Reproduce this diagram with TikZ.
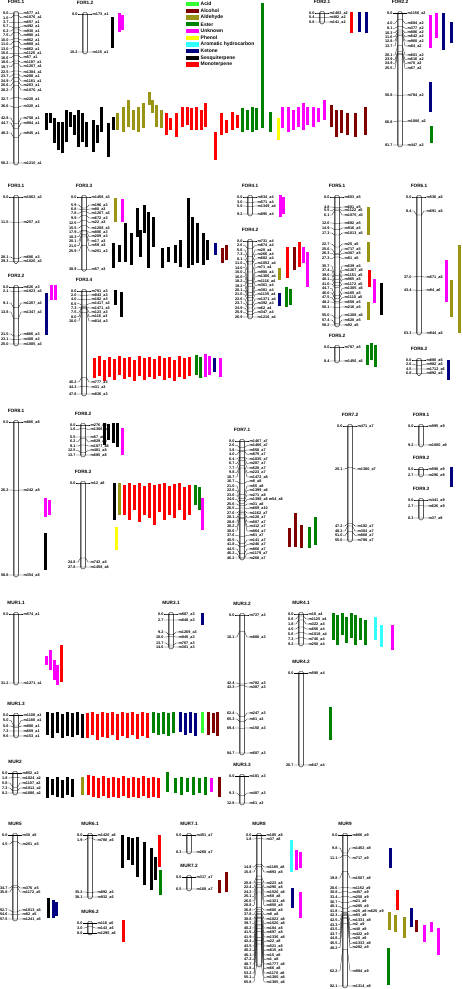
\documentclass[tikz,border=0pt]{standalone}
\usepackage{fontspec}
\setsansfont{Liberation Sans}
\renewcommand\familydefault{\sfdefault}
\newcounter{mk}
\definecolor{acid}{RGB}{51,255,51}
\definecolor{alc}{RGB}{128,0,0}
\definecolor{ald}{RGB}{153,148,20}
\definecolor{ester}{RGB}{0,128,0}
\definecolor{unk}{RGB}{255,0,255}
\definecolor{phenol}{RGB}{255,255,0}
\definecolor{arom}{RGB}{51,255,255}
\definecolor{ket}{RGB}{0,0,128}
\definecolor{mono}{RGB}{255,0,0}
\tikzset{
  chr/.style={draw=black,line width=0.4pt,fill=white,rounded corners=1.6pt},
  tck/.style={line width=0.25pt},
  cmlab/.style={anchor=east,inner sep=0.4pt,font=\fontsize{3.8}{4}\selectfont\bfseries},
  mklab/.style={anchor=west,inner sep=0.4pt,font=\fontsize{3.8}{4}\selectfont\bfseries},
  lgt/.style={inner sep=0.5pt,font=\fontsize{4.7}{5}\selectfont\bfseries},
  keytext/.style={anchor=west,inner sep=0.5pt,font=\fontsize{5}{6}\selectfont\bfseries}
}
\begin{document}
\catcode`\_=12
\begin{tikzpicture}[x=1pt,y=-1pt]

  \newcommand\LG[5]{%
    \node[lgt] (#5) at (#1,{#2-11}) {#4};
    \draw[chr] ({#1-2.4},{#2-1.8}) rectangle ({#1+2.4},{#3+1.8});
    \draw[gray!70,line width=1pt] ({#1-1.1},{#2-0.6}) -- ({#1-1.1},{#3+0.6});}
  \newcommand\MK[5]{%
    \stepcounter{mk}%
    \node[cmlab] (c\themk) at ({#1-7},{#3}) {#4};
    \node[mklab] (m\themk) at ({#1+7},{#3}) {#5};
    \draw[tck] (c\themk.east) -- ({#1-5},{#3}) -- ({#1-2.4},{#2})
      -- ({#1+2.4},{#2}) -- ({#1+5},{#3}) -- (m\themk.west);}

  \useasboundingbox (0,0) rectangle (463,989);

  % legend
  \foreach \c/\t [count=\i from 0] in {acid/Acid,alc/Alcohol,ald/Aldehyde,
    ester/Ester,unk/Unknown,phenol/Phenol,arom/Aromatic hydrocarbon,
    ket/Ketone,black/Sesquiterpene,mono/Monoterpene}{
    \fill[\c] (186,{2+\i*6.7}) rectangle (199,{6.3+\i*6.7});
    \node[keytext] (key\i) at (200,{4.2+\i*6.7}) {\t};
  }

  % QTL bars
  \foreach \x/\a/\b/\c in {
    46/113/130/black,50/113/123/black,54/118/143/black,58/122/150/black,
    62/122/153/black,66/110/142/black,70/112/127/black,74/115/135/black,
    78/110/147/black,82/113/142/black,86/122/147/black,93/120/152/black,
    97/125/143/black,101/107/132/black,108/123/157/black,113/117/130/black,
    117/113/130/ald,123/107/132/ald,128/100/127/ald,133/110/130/ald,
    138/107/132/ald,143/103/128/ald,149/92/105/ald,152/100/113/ald,
    156/105/127/ald,161/110/128/ald,
    166/113/135/mono,170/118/130/mono,176/113/137/mono,182/107/127/mono,
    187/107/125/mono,191/108/130/mono,196/107/130/mono,201/110/130/mono,
    205/103/127/mono,215/132/160/mono,221/113/135/mono,226/120/133/mono,
    232/112/130/mono,237/115/128/mono,
    242/108/132/ester,247/110/130/ester,252/107/132/ester,256/108/130/ester,
    262/3/128/ester,270/112/132/ester,278/118/140/phenol,
    282/107/128/unk,288/107/132/unk,293/110/130/unk,298/107/127/unk,
    303/103/130/unk,307/107/125/unk,313/107/127/unk,318/108/122/unk,
    324/100/120/unk,
    331/105/127/alc,336/110/137/alc,341/110/133/alc,347/113/135/alc,
    355/113/137/alc,365/107/135/alc,
    112/17/48/black,119/13/32/unk,122/15/30/unk,
    351/12/33/mono,359/12/32/ket,366/12/33/ket,
    430/15/48/unk,436/13/38/unk,443/13/50/ket,451/22/43/ket,
    430/82/112/ket,431/126/143/ester,
    51/285/300/unk,55/285/300/unk,46/293/335/ket,
    115/198/222/ald,122/199/222/unk,
    113/243/268/black,119/245/262/black,125/223/262/black,131/233/265/black,
    137/208/237/black,140/230/257/black,144/205/233/black,148/212/268/black,
    153/217/247/black,162/248/268/black,168/247/262/black,175/245/263/black,
    180/240/267/black,188/198/268/black,192/217/265/black,197/223/263/black,
    203/233/265/black,207/240/260/black,215/243/255/ket,222/248/263/alc,
    226/245/260/alc,
    115/290/305/black,121/292/317/black,
    94/358/378/mono,99/356/376/mono,104/360/381/mono,109/357/377/mono,
    114/359/380/mono,119/356/375/mono,124/358/379/mono,129/357/377/mono,
    134/360/381/mono,139/356/376/mono,144/358/380/mono,149/357/377/mono,
    154/359/379/mono,159/356/376/mono,164/358/380/mono,169/357/378/mono,
    174/360/381/mono,179/356/377/mono,184/358/379/mono,189/357/376/mono,
    196/355/375/ester,200/357/378/ester,205/354/377/unk,209/356/375/unk,
    214/358/372/ket,220/358/377/unk,
    280/195/217/unk,283/197/214/unk,
    287/247/278/mono,294/247/270/alc,299/242/267/mono,303/247/263/unk,
    307/252/287/unk,279/268/280/ald,279/293/306/ket,286/287/307/ester,
    290/289/305/ester,
    368/207/235/ald,368/242/262/ald,369/270/287/mono,374/279/303/unk,
    368/302/320/ald,381/283/315/black,
    367/345/365/ester,371/343/360/ester,375/345/367/ester,
    446/260/302/unk,451/280/317/ald,459/245/333/ald,448/360/380/ket,
    45/498/517/unk,49/500/515/unk,45/533/570/black,
    104/423/445/black,108/424/440/black,113/423/443/black,117/423/447/black,
    122/428/455/unk,
    114/483/520/black,119/483/515/ald,116/527/550/phenol,
    124/485/515/mono,129/483/520/mono,134/485/510/mono,139/483/522/mono,
    144/486/515/mono,149/483/518/mono,154/485/525/mono,159/484/512/mono,
    164/483/520/mono,169/486/515/mono,174/484/518/mono,179/483/510/mono,
    184/487/520/mono,189/485/515/mono,195/485/505/ester,199/487/510/ester,
    202/498/530/unk,
    289/528/547/alc,295/513/547/alc,301/525/548/alc,309/527/548/ester,
    315/517/545/ester,451/467/487/ket,
    46/656/665/unk,50/650/670/unk,54/660/680/unk,57/665/685/unk,
    61/645/682/mono,
    47/712/735/black,52/713/738/black,57/712/733/black,62/714/738/black,
    67/712/736/black,72/713/737/black,77/712/735/black,82/714/738/black,
    87/713/738/mono,92/712/735/mono,97/714/740/mono,102/712/737/mono,
    107/713/738/mono,112/712/735/mono,117/714/740/mono,122/712/736/mono,
    127/713/738/mono,132/712/735/mono,137/714/739/mono,142/712/736/mono,
    147/713/738/mono,153/712/733/ester,158/713/735/ester,163/712/734/ester,
    168/713/736/ester,173/712/733/ester,180/712/732/ket,185/713/735/ket,
    190/712/733/ket,195/713/736/ket,202/712/733/acid,208/712/735/alc,
    213/713/733/alc,217/712/736/alc,
    47/777/798/black,52/779/795/black,57/777/797/black,62/780/798/black,
    67/777/795/black,72/779/797/black,82/777/795/ald,
    88/775/795/mono,93/776/797/mono,98/778/798/mono,103/776/796/mono,
    108/778/798/mono,113/777/797/mono,118/778/798/mono,123/776/796/mono,
    128/778/798/mono,133/777/797/mono,138/778/798/mono,143/776/796/mono,
    148/778/798/mono,153/777/797/mono,158/778/798/mono,
    167/772/792/ester,175/778/793/ester,181/777/795/ester,187/778/792/ester,
    193/777/795/ester,199/778/793/ester,205/777/795/ester,211/778/792/unk,
    219/777/797/alc,
    202/613/625/ket,
    333/613/640/ester,337/615/645/ester,342/613/635/ester,346/617/643/ester,
    351/613/638/ester,355/615/645/ester,360/618/640/ester,365/620/645/ester,
    375/617/640/arom,381/625/647/arom,392/625/650/unk,330/707/740/ester,
    48/898/918/black,53/900/918/ket,56/902/916/ket,
    122/835/868/black,128/837/860/black,132/838/865/black,137/837/877/black,
    144/842/885/black,151/848/890/black,155/857/880/black,159/835/867/mono,
    160/870/895/ester,123/920/942/mono,
    219/880/893/alc,226/872/892/alc,
    291/840/872/arom,296/850/870/unk,300/852/868/unk,292/888/908/ket,
    300/892/918/unk,
    390/848/868/ket,397/890/910/mono,411/908/927/ket,389/912/930/ald,
    395/915/932/ald,404/917/938/ald,416/920/932/alc,424/925/942/unk,
    431/922/932/unk,438/928/955/unk,388/948/985/ester}
    \fill[\c] ({\x-1.5},\a) rectangle ({\x+1.5},\b);

  % FOR1.1
  \LG{16}{13}{163}{FOR1.1}{for11}
  \foreach \p/\n/\y in {0.0/m577_a1/13.3,1.0/m1076_a1/17.8,3.7/m657_a1/22.2,
    5.7/m492_a1/26.7,6.2/m930_a1/31.1,7.5/m980_a1/35.6,10.0/m962_a1/40,
    11.0/m968_a1/44.5,13.0/m862_a1/48.9,15.6/m1125_a1/53.4,16.6/m57_a1/57.8,
    18.6/m1197_a1/62.3,19.7/m1207_a1/66.7,22.5/m1384_a1/72,23.7/m288_a1/76.5,
    24.9/m1181_a1/81,26.6/m263_a1/85.5,28.2/m1070_a1/90,32.7/m220_a1/99,
    36.6/m320_a1/106,42.8/m758_a1/118,44.7/m904_a1/123,48.2/m945_a1/133,
    58.2/m1210_a1/163}
    \MK{16}{13+\p*2.577}{\y}{\p}{\n};

  % FOR1.2
  \LG{85}{14}{52}{FOR1.2}{for12}
  \foreach \p/\n/\y in {0.0/m173_a1/14,10.2/m115_a1/52}
    \MK{85}{14+\p*3.725}{\y}{\p}{\n};

  % FOR2.1
  \LG{322}{13}{22}{FOR2.1}{for21}
  \foreach \p/\n/\y in {0.0/m1482_a2/13,0.4/m482_a2/17.5,0.8/m141_a2/22}
    \MK{322}{13+\p*11.25}{\y}{\p}{\n};

  % FOR2.2
  \LG{400}{13.3}{145}{FOR2.2}{for22}
  \foreach \p/\n/\y in {0.0/m1156_a2/13.3,4.0/m684_a2/23.3,8.1/m377_a2/28.3,
    10.3/m886_a2/32.7,11.6/m642_a2/36.7,12.8/m960_a2/41,13.7/m84_a2/46,
    20.1/m601_a2/55,23.9/m616_a2/59.3,24.9/m70_a2/63.3,25.5/m67_a2/68.3,
    50.8/m784_a2/95,66.8/m1006_a2/121.7,81.7/m447_a2/145}
    \MK{400}{13.3+\p*1.612}{\y}{\p}{\n};

  % FOR3.1
  \LG{16}{197}{261.5}{FOR3.1}{for31}
  \foreach \p/\n/\y in {0.0/m1062_a3/197,11.5/m257_a3/222,28.1/m686_a3/257,
    29.3/m1026_a3/261.5}
    \MK{16}{197+\p*2.2}{\y}{\p}{\n};

  % FOR3.2
  \LG{16}{287}{344}{FOR3.2}{for32}
  \foreach \p/\n/\y in {0.0/m626_a3/287,2.1/m1023_a3/291,9.1/m1207_a3/303,
    13.8/m1347_a3/312,21.5/m866_a3/334,23.1/m408_a3/339,25.0/m1085_a3/344}
    \MK{16}{287+\p*2.28}{\y}{\p}{\n};

  % FOR3.3
  \LG{84}{197}{269.3}{FOR3.3}{for33}
  \foreach \p/\n/\y in {0.0/m1458_a3/197,5.9/m196_a3/205,6.8/m80_a3/209,
    7.8/m1267_a3/213.3,9.9/m672_a3/218,12.5/m22_a3/222.7,15.5/m1208_a3/228,
    17.9/m806_a3/232.3,18.3/m209_a3/236.7,20.1/m17_a3/241,21.0/m59_a3/245.7,
    25.9/m251_a3/251,38.9/m57_a3/269.3}
    \MK{84}{197+\p*1.858}{\y}{\p}{\n};

  % FOR3.4
  \LG{84}{291}{394}{FOR3.4}{for34}
  \foreach \p/\n/\y in {0.0/m781_a3/291,2.0/m843_a3/295,4.0/m182_a3/299.3,
    6.5/m1417_a3/303.7,7.3/m1471_a3/308,7.5/m123_a3/312.3,8.0/m116_a3/316.7,
    10.0/m814_a3/321,40.2/m777_a3/382,44.3/m31_a3/387,47.8/m836_a3/394}
    \MK{84}{291+\p*2.155}{\y}{\p}{\n};

  % FOR4.1
  \LG{250}{197}{214}{FOR4.1}{for41}
  \foreach \p/\n/\y in {0.0/m634_a4/197,3.0/m571_a4/202,5.0/m1349_a4/206,
    9.2/m895_a4/214}
    \MK{250}{197+\p*1.85}{\y}{\p}{\n};

  % FOR4.2
  \LG{250}{241}{317}{FOR4.2}{for42}
  \foreach \p/\n [count=\i from 0] in {0.0/m731_a4,2.6/m874_a4,5.6/m20_a4,
    7.3/m266_a4,8.1/m682_a4,11.0/m1052_a4,14.0/m71_a4,15.0/m980_a4,
    16.0/m1306_a4,18.2/m1116_a4,19.2/m361_a4,20.1/m381_a4,21.0/m1135_a4,
    22.6/m1371_a4,23.7/m392_a4,24.9/m62_a4,25.9/m347_a4,26.9/m1216_a4}
    \MK{250}{241+\p*2.825}{241+\i*4.47}{\p}{\n};

  % FOR5.1
  \LG{337}{197}{325}{FOR5.1}{for51}
  \foreach \p/\n/\y in {0.0/m603_a5/197,4.8/m601_a5/207,5.5/m1122_a5/210.5,
    6.1/m1075_a5/215,12.0/m682_a5/223,14.9/m916_a5/228,17.3/m1013_a5/233,
    22.7/m25_a5/244,25.6/m717_a5/249,26.3/m307_a5/253.5,27.3/m81_a5/258.5,
    35.7/m639_a5/266,37.4/m1267_a5/270.5,39.0/m1151_a5/275,40.1/m965_a5/279.5,
    41.0/m1172_a5/284,44.7/m1305_a5/288.5,46.0/m165_a5/293,
    47.5/m1110_a5/297.5,48.2/m658_a5/302,50.1/m216_a5/307,55.0/m1208_a5/315,
    57.4/m620_a5/320,58.2/m92_a5/325}
    \MK{337}{197+\p*2.2}{\y}{\p}{\n};

  % FOR5.2
  \LG{337}{347}{361}{FOR5.2}{for52}
  \foreach \p/\n/\y in {0.0/m787_a5/347,8.4/m1456_a5/361}
    \MK{337}{347+\p*1.667}{\y}{\p}{\n};

  % FOR6.1
  \LG{419}{197}{333}{FOR6.1}{for61}
  \foreach \p/\n/\y in {0.0/m536_a6/197,8.4/m691_a6/211,37.0/m571_a6/277,
    43.4/m94_a6/290,63.3/m944_a6/333}
    \MK{419}{197+\p*2.148}{\y}{\p}{\n};

  % FOR6.2
  \LG{419}{360}{373.5}{FOR6.2}{for62}
  \foreach \p/\n/\y in {0.0/m880_a6/360,2.6/m982_a6/364.5,4.5/m1712_a6/369,
    6.8/m892_a6/373.5}
    \MK{419}{360+\p*1.985}{\y}{\p}{\n};

  % FOR8.1
  \LG{16}{422}{575}{FOR8.1}{for81}
  \foreach \p/\n/\y in {0.0/m866_a8/422,26.2/m242_a8/490,58.8/m354_a8/575}
    \MK{16}{422+\p*2.602}{\y}{\p}{\n};

  % FOR8.2
  \LG{83}{425}{455}{FOR8.2}{for82}
  \foreach \p/\n/\y in {0.0/m276_a8/425,1.6/m1306_a8/429.5,5.5/m57_a8/437,
    6.2/m829_a8/441.5,9.1/m1077_a8/446,12.5/m481_a8/450.5,13.7/m685_a8/455}
    \MK{83}{425+\p*2.19}{\y}{\p}{\n};

  % FOR8.3
  \LG{83}{483}{567}{FOR8.3}{for83}
  \foreach \p/\n/\y in {0.0/m12_a8/483,24.8/m743_a8/562,27.8/m1458_a8/567}
    \MK{83}{483+\p*3.02}{\y}{\p}{\n};

  % FOR7.1
  \LG{242}{441}{558}{FOR7.1}{for71}
  \foreach \p/\n [count=\i from 0] in {0.0/m1467_a7,2.6/m1466_a7,3.8/m558_a7,
    4.0/m875_a7,6.4/m1035_a7,6.7/m287_a7,7.7/m520_a7,9.8/m223_a7,
    10.7/m1472_a8,16.7/m8_a8,21.0/m55_a8,22.6/m1399_a8,23.6/m271_a8,
    24.6/m1398_a8 m54_a8,25.6/m31_a8,26.5/m669_a10,27.6/m1162_a7,28.1/m120_a7,
    28.8/m507_a7,30.2/m412_a7,30.6/m864_a7,37.6/m81_a7,40.5/m141_a7,
    41.8/m246_a7,44.5/m860_a7,46.2/m1179_a7,46.2/m268_a7}
    \MK{242}{441+\p*2.532}{441+\i*4.5}{\p}{\n};

  % FOR7.2
  \LG{350}{426}{540}{FOR7.2}{for72}
  \foreach \p/\n/\y in {0.0/m471_a7/426,20.1/m1380_a7/469,47.2/m182_a7/526,
    48.2/m304_a7/531,51.0/m868_a7/535.5,55.0/m788_a7/540}
    \MK{350}{426+\p*2.073}{\y}{\p}{\n};

  % FOR9.1 - FOR9.3
  \LG{421}{426}{445}{FOR9.1}{for91}
  \foreach \p/\n/\y in {0.0/m995_a9/426,9.2/m1000_a9/445}
    \MK{421}{426+\p*2.065}{\y}{\p}{\n};
  \LG{421}{469}{475}{FOR9.2}{for92}
  \foreach \p/\n/\y in {0.0/m598_a9/469,2.7/m296_a9/475}
    \MK{421}{469+\p*2.22}{\y}{\p}{\n};
  \LG{421}{500}{518}{FOR9.3}{for93}
  \foreach \p/\n/\y in {0.0/m441_a9/500,2.7/m626_a9/506,8.3/m37_a9/518}
    \MK{421}{500+\p*2.17}{\y}{\p}{\n};

  % MUR1.1, MUR1.3, MUR2
  \LG{16}{614}{683}{MUR1.1}{mur11}
  \foreach \p/\n/\y in {0.0/m574_a1/614,31.2/m1271_a1/683}
    \MK{16}{614+\p*2.21}{\y}{\p}{\n};
  \LG{16}{715}{736}{MUR1.3}{mur13}
  \foreach \p/\n/\y in {0.0/m1108_a1/715,5.0/m1180_a1/720.5,5.6/m880_a1/726,
    7.3/m669_a1/731,9.6/m153_a1/736}
    \MK{16}{715+\p*2.19}{\y}{\p}{\n};
  \LG{15}{773}{793}{MUR2}{mur2}
  \foreach \p/\n/\y in {0.0/m852_a2/773,1.8/m1024_a2/778,5.8/m1107_a2/783,
    7.3/m1012_a2/788,8.2/m1086_a2/793}
    \MK{15}{773+\p*2.44}{\y}{\p}{\n};

  % MUR3.1 - MUR3.3
  \LG{171}{614}{647}{MUR3.1}{mur31}
  \foreach \p/\n/\y in {0.0/m887_a3/614,2.7/m848_a3/620,9.2/m1269_a3/632,
    10.0/m945_a3/637,13.7/m767_a3/643,14.6/m301_a3/647}
    \MK{171}{614+\p*2.26}{\y}{\p}{\n};
  \LG{242}{615}{753}{MUR3.2}{mur32}
  \foreach \p/\n/\y in {0.0/m727_a3/615,10.1/m880_a3/637,42.4/m782_a3/683,
    43.3/m387_a3/687,62.4/m247_a3/713,65.3/m81_a3/719,69.4/m150_a3/728,
    84.7/m687_a3/753}
    \MK{242}{615+\p*1.63}{\y}{\p}{\n};
  \LG{242}{776}{803}{MUR3.3}{mur33}
  \foreach \p/\n/\y in {0.0/m181_a3/776,9.3/m487_a3/793,12.8/m61_a3/803}
    \MK{242}{776+\p*2.11}{\y}{\p}{\n};

  % MUR4.1, MUR4.2
  \LG{301}{614}{644}{MUR4.1}{mur41}
  \foreach \p/\n [count=\i from 0] in {0.0/m18_a4,0.6/m1125_a4,1.8/m322_a4,
    4.0/m656_a4,5.6/m1018_a4,7.3/m746_a4,9.2/m258_a4}
    \MK{301}{614+\p*3.26}{614+\i*5}{\p}{\n};
  \LG{301}{673}{765}{MUR4.2}{mur42}
  \foreach \p/\n/\y in {0.0/m590_a4/673,20.7/m647_a4/765}
    \MK{301}{673+\p*4.44}{\y}{\p}{\n};

  % MUR5
  \LG{15}{835}{919}{MUR5}{mur5}
  \foreach \p/\n/\y in {0.0/m30_a5/835,4.5/m261_a5/844,34.7/m376_a5/888,
    35.8/m1172_a5/892,52.7/m1013_a5/910,54.6/m82_a5/914,57.5/m1241_a5/919}
    \MK{15}{835+\p*1.46}{\y}{\p}{\n};

  % MUR6.1, MUR6.2
  \LG{90}{835}{897}{MUR6.1}{mur61}
  \foreach \p/\n/\y in {0.0/m1420_a6/835,1.9/m780_a6/840,35.2/m892_a6/892,
    38.1/m932_a6/897}
    \MK{90}{835+\p*1.63}{\y}{\p}{\n};
  \LG{90}{923}{933}{MUR6.2}{mur62}
  \foreach \p/\n/\y in {0.0/m118_a6/923,3.0/m143_a6/928,8.0/m1295_a6/933}
    \MK{90}{923+\p*1.25}{\y}{\p}{\n};

  % MUR7.1, MUR7.2
  \LG{189}{835}{852}{MUR7.1}{mur71}
  \foreach \p/\n/\y in {0.0/m451_a7/835,8.3/m268_a7/852}
    \MK{189}{835+\p*2.05}{\y}{\p}{\n};
  \LG{189}{877}{889}{MUR7.2}{mur72}
  \foreach \p/\n/\y in {0.0/m317_a7/877,6.5/m168_a7/889}
    \MK{189}{877+\p*1.85}{\y}{\p}{\n};

  % MUR8
  \LG{259}{835}{965}{MUR8}{mur8}
  \foreach \p/\n/\y in {0.0/m185_a8/835,1.8/m37_a8/839,14.8/m1185_a8/867,
    15.8/m893_a8/872}
    \MK{259}{835+\p*1.976}{\y}{\p}{\n};
  \foreach \p/\n [count=\i from 0] in {20.8/m223_a8,22.4/m290_a8,
    24.2/m1526_a8,25.1/m58_a8,26.6/m1321_a8,28.8/m850_a8,36.8/m500_a8,
    37.8/m8_a8,38.8/m1022_a8,39.7/m1520_a8,40.2/m184_a8,41.5/m697_a8,
    41.9/m1336_a8,42.4/m22_a8,43.5/m521_a8,45.2/m815_a8,46.1/m15_a8,
    47.2/m1_a8,48.7/m1777_a8,51.8/m66_a8,53.2/m1170_a8,55.1/m1300_a8,
    65.8/m1305_a8}
    \MK{259}{835+\p*1.976}{883+\i*4.5}{\p}{\n};

  % MUR9
  \LG{345}{835}{986}{MUR9}{mur9}
  \foreach \p/\n/\y in {0.0/m866_a9/835,9.8/m1452_a9/848,11.1/m717_a9/858,
    19.8/m1507_a9/878,62.2/m984_a9/971,82.1/m1314_a9/986}
    \MK{345}{835+\p*1.84}{\y}{\p}{\n};
  \foreach \p/\n [count=\i from 0] in {28.6/m1152_a9,30.8/m457_a9,
    33.4/m250_a9,36.7/m21_a9,40.1/m285_a9,41.8/m25_a9 m625_a9,42.3/m93_a9,
    42.5/m1331_a9,43.3/m2_a9,43.5/m40_a9,43.7/m422_a9,44.8/m20_a9,
    45.5/m1333_a9,48.2/m282_a9}
    \MK{345}{835+\p*1.84}{888+\i*4.6}{\p}{\n};

\end{tikzpicture}
\end{document}
